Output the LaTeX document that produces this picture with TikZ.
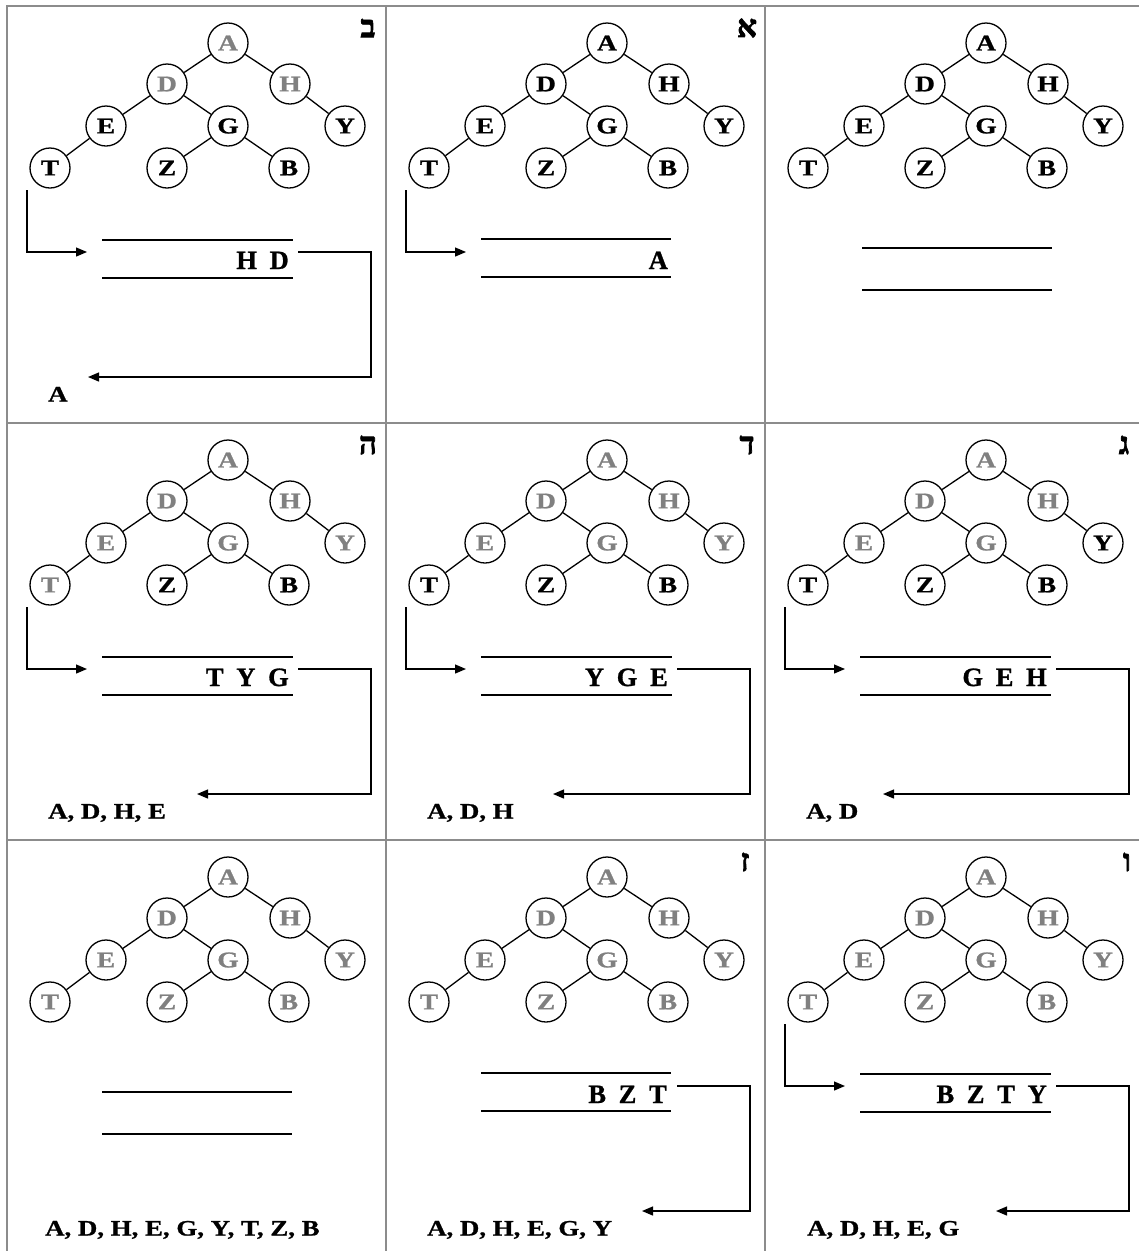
\documentclass[tikz,border=0pt]{standalone}
\usepackage{fontspec}
\setmainfont{Liberation Serif}[FakeBold=1]
\newfontfamily\widefont{Liberation Serif}[FakeStretch=1.22,FakeBold=1]
\newfontfamily\hebfont[Script=Hebrew,FakeBold=2.5]{Liberation Serif}
\usetikzlibrary{arrows.meta}
\TeXXeTstate=1
\definecolor{ngray}{RGB}{128,128,128}
\definecolor{gridgray}{RGB}{140,140,140}
\tikzset{
 vert/.style={circle,draw,line width=1.3pt,minimum size=40pt,inner sep=0pt,font=\widefont\fontsize{22.5}{22.5}\selectfont\bfseries},
 edge/.style={line width=1.3pt},
 gridline/.style={draw=gridgray,line width=2.2pt},
 stackline/.style={line width=2.2pt},
 conn/.style={line width=1.3pt},
 arr/.style={conn,-{Triangle[length=11pt,width=9pt]}},
 stacktext/.style={anchor=base east,inner sep=0pt,font=\fontsize{26.5}{26.5}\selectfont\bfseries},
 outtext/.style={anchor=base west,inner sep=0pt,font=\widefont\fontsize{22}{22}\selectfont\bfseries},
 heblabel/.style={inner sep=0pt,font=\hebfont\fontsize{31}{31}\selectfont\bfseries},
}
\newcommand{\gp}{\hspace{0.48em}}
\newcommand{\bfstree}[2]{%
 \foreach \n/\x/\y [count=\i] in {A/221/37,D/160/78,H/283/78,E/99/120,G/221/120,Y/338/120,T/43/162,Z/160/162,B/282/162}{
   \ifnum\i>#2\relax \def\col{black}\else\def\col{ngray}\fi
   \node[vert,text=\col] (#1\n) at (\x,\y) {\n};
 }
 \foreach \a/\b in {A/D,A/H,D/E,D/G,E/T,G/Z,G/B,H/Y} \draw[edge] (#1\a) -- (#1\b);
}
% prefix, top y, bottom y, x left, x right
\newcommand{\queuelines}[5]{%
 \coordinate (#1q1) at (#4,#2); \coordinate (#1q2) at (#5,#2);
 \coordinate (#1q3) at (#4,#3); \coordinate (#1q4) at (#5,#3);
 \draw[stackline] (#1q1) -- (#1q2);
 \draw[stackline] (#1q3) -- (#1q4);
}
\newcommand{\inarrow}[1]{%
 \coordinate (#1in0) at (20,184); \coordinate (#1in1) at (80,246);
 \draw[arr] (#1in0) |- (#1in1);
}
% prefix, tip x
\newcommand{\outarrow}[2]{%
 \coordinate (#1o0) at (291,246); \coordinate (#1o1) at (364,371); \coordinate (#1o2) at (#2,371);
 \draw[arr] (#1o0) -| (#1o1) -- (#1o2);
}
\begin{document}
\begin{tikzpicture}[x=1pt,y=-1pt]
\useasboundingbox (0,0) rectangle (1139,1251);
% grid
\coordinate (g1) at (7,1251); \coordinate (g2) at (7,6); \coordinate (g3) at (1139,6);
\draw[gridline] (g1) -- (g2) -- (g3);
\coordinate (g4) at (386,6); \coordinate (g5) at (386,1251);
\coordinate (g6) at (765,6); \coordinate (g7) at (765,1251);
\coordinate (g8) at (7,423); \coordinate (g9) at (1139,423);
\coordinate (g10) at (7,840); \coordinate (g11) at (1139,840);
\draw[gridline] (g4) -- (g5);
\draw[gridline] (g6) -- (g7);
\draw[gridline] (g8) -- (g9);
\draw[gridline] (g10) -- (g11);

% top-right: initial
\begin{scope}[shift={(765,6)}]
 \bfstree{pa}{0}
 \queuelines{pa}{242}{284}{97}{287}
\end{scope}

% top-middle: alef
\begin{scope}[shift={(386,6)}]
 \bfstree{pb}{0}
 \node[heblabel] (pbL) at (361,22) {\beginR א\endR};
 \queuelines{pb}{233}{271}{95}{285}
 \node[stacktext] (pbS) at (282,263) {A};
 \inarrow{pb}
\end{scope}

% top-left: bet
\begin{scope}[shift={(7,6)}]
 \bfstree{pc}{3}
 \node[heblabel] (pcL) at (361,22) {\beginR ב\endR};
 \queuelines{pc}{234}{272}{95}{286}
 \node[stacktext] (pcS) at (282,263) {H\gp D};
 \inarrow{pc}
 \outarrow{pc}{81}
 \node[outtext] (pcO) at (41,395.5) {A};
\end{scope}

% middle-right: gimel
\begin{scope}[shift={(765,423)}]
 \bfstree{pd}{5}
 \node[heblabel] (pdL) at (359,22) {\beginR ג\endR};
 \queuelines{pd}{234}{272}{95}{286}
 \node[stacktext] (pdS) at (282,263) {G\gp E\gp H};
 \inarrow{pd}
 \outarrow{pd}{118}
 \node[outtext] (pdO) at (41,395.5) {A, D};
\end{scope}

% middle-middle: dalet
\begin{scope}[shift={(386,423)}]
 \bfstree{pe}{6}
 \node[heblabel] (peL) at (361,22) {\beginR ד\endR};
 \queuelines{pe}{234}{272}{95}{286}
 \node[stacktext] (peS) at (282,263) {Y\gp G\gp E};
 \inarrow{pe}
 \outarrow{pe}{167}
 \node[outtext] (peO) at (41,395.5) {A, D, H};
\end{scope}

% middle-left: he
\begin{scope}[shift={(7,423)}]
 \bfstree{pf}{7}
 \node[heblabel] (pfL) at (361,22) {\beginR ה\endR};
 \queuelines{pf}{234}{272}{95}{286}
 \node[stacktext] (pfS) at (282,263) {T\gp Y\gp G};
 \inarrow{pf}
 \outarrow{pf}{190}
 \node[outtext] (pfO) at (41,395.5) {A, D, H, E};
\end{scope}

% bottom-right: vav
\begin{scope}[shift={(765,840)}]
 \bfstree{pg}{9}
 \node[heblabel] (pgL) at (362,22) {\beginR ו\endR};
 \queuelines{pg}{234}{272}{95}{286}
 \node[stacktext] (pgS) at (282,263) {B\gp Z\gp T\gp Y};
 \inarrow{pg}
 \outarrow{pg}{231}
 \node[outtext] (pgO) at (42,395.5) {A, D, H, E, G};
\end{scope}

% bottom-middle: zayin
\begin{scope}[shift={(386,840)}]
 \bfstree{ph}{9}
 \node[heblabel] (phL) at (359,22) {\beginR ז\endR};
 \queuelines{ph}{233}{271}{95}{285}
 \node[stacktext] (phS) at (281,263) {B\gp Z\gp T};
 \outarrow{ph}{256}
 \node[outtext] (phO) at (41,395.5) {A, D, H, E, G, Y};
\end{scope}

% bottom-left: final
\begin{scope}[shift={(7,840)}]
 \bfstree{pi}{9}
 \queuelines{pi}{252}{294}{95}{285}
 \node[outtext] (piO) at (38,395.5) {A, D, H, E, G, Y, T, Z, B};
\end{scope}
\end{tikzpicture}
\end{document}
